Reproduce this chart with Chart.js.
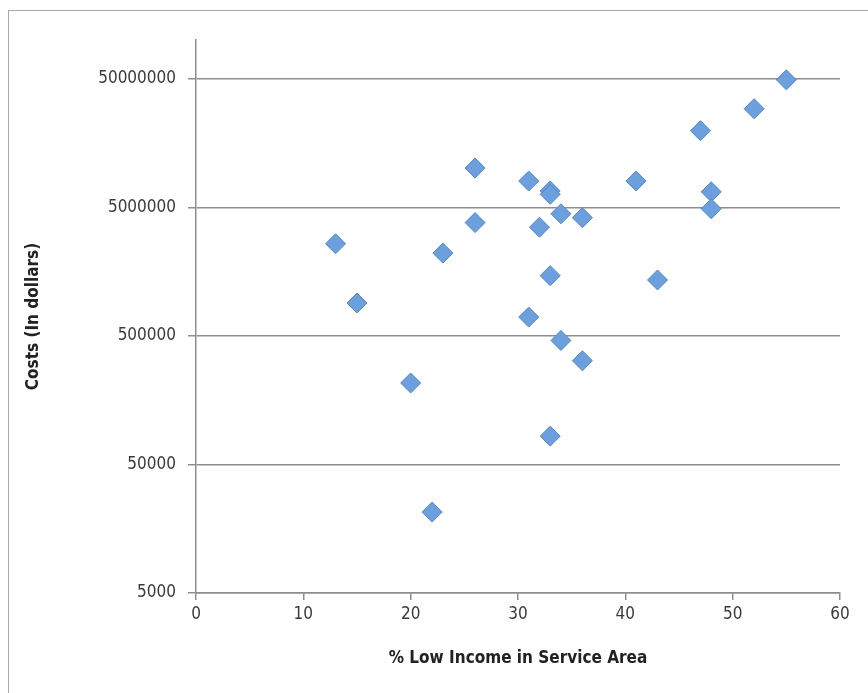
<!DOCTYPE html>
<html>
<head>
<meta charset="utf-8">
<script src="https://cdn.jsdelivr.net/npm/chart.js@4/dist/chart.umd.min.js"></script>
<style>
  html, body { margin:0; padding:0; background:#fff; overflow:hidden; }
  #wrap { position:relative; width:868px; height:693px; }
  #frame { position:absolute; left:8px; top:10px; width:900px; height:720px; border:1.5px solid #a8a8a8; box-sizing:border-box; }
  canvas { position:absolute; left:0; top:0; }
</style>
</head>
<body>
<div id="wrap">
  <div id="frame"></div>
  <canvas id="c" width="868" height="693"></canvas>
</div>
<script>
// Data
const lowIncomePct = [13, 15, 20, 22, 23, 26, 26, 31, 31, 32, 33, 33, 33, 33, 34, 34, 36, 36, 41, 43, 47, 48, 48, 52, 55];
const costsDollars = [2600000, 900000, 215000, 21300, 2200000, 10100000, 3800000, 700000, 8000000, 3500000, 6700000, 6300000, 1470000, 83000, 4450000, 460000, 4150000, 320000, 8000000, 1360000, 19700000, 6600000, 4870000, 29200000, 49000000];
const xTicks = [0, 10, 20, 30, 40, 50, 60];
const yTicks = [5000, 50000, 500000, 5000000, 50000000];

const points = lowIncomePct.map((x, i) => ({ x: x, y: costsDollars[i] }));
const FONT = "'DejaVu Sans Condensed', 'Liberation Sans Narrow', 'DejaVu Sans', sans-serif";
const GRID = '#8e8e8e';

new Chart(document.getElementById('c'), {
  type: 'scatter',
  data: {
    datasets: [{
      data: points,
      pointStyle: 'rectRot',
      pointRadius: 10,
      pointHoverRadius: 10,
      backgroundColor: '#6c9fde',
      borderColor: '#5487c6',
      borderWidth: 1
    }]
  },
  options: {
    responsive: false,
    animation: false,
    layout: { padding: { top: 40, right: 28, left: 19, bottom: 20 } },
    plugins: { legend: { display: false }, tooltip: { enabled: false } },
    scales: {
      x: {
        type: 'linear',
        min: 0, max: 60,
        afterBuildTicks: s => { s.ticks = xTicks.map(v => ({ value: v })); },
        afterFit: s => { s.height = 80; },
        grid: { drawOnChartArea: false, drawTicks: true, tickLength: 7, color: GRID, lineWidth: 1.5 },
        border: { color: GRID, width: 1.5 },
        ticks: { color: '#3a3a3a', font: { family: FONT, size: 17 }, padding: 4 },
        title: { display: true, text: '% Low Income in Service Area', color: '#222', font: { family: FONT, size: 17, weight: 'bold' }, padding: { top: 4, bottom: 4 } }
      },
      y: {
        type: 'logarithmic',
        min: 5000, max: 100000000,
        afterBuildTicks: s => { s.ticks = yTicks.map(v => ({ value: v })); },
        afterFit: s => { s.width = 177; },
        grid: { color: GRID, lineWidth: 1.5, tickLength: 8 },
        border: { color: GRID, width: 1.5 },
        ticks: { color: '#3a3a3a', font: { family: FONT, size: 17 }, padding: 12, callback: v => String(v) },
        title: { display: true, text: 'Costs (In dollars)', color: '#222', font: { family: FONT, size: 17, weight: 'bold' }, padding: { top: 4, bottom: 4 } }
      }
    }
  }
});
</script>
</body>
</html>
